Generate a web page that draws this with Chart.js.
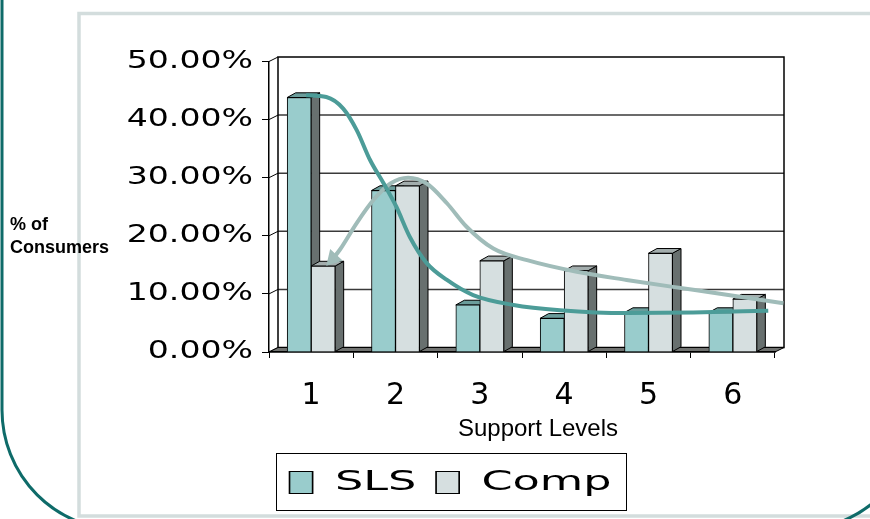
<!DOCTYPE html>
<html>
<head>
<meta charset="utf-8">
<script src="https://cdn.jsdelivr.net/npm/chart.js@4.4.1/dist/chart.umd.min.js"></script>
<style>
  html, body { margin: 0; padding: 0; background: #fff; }
  #wrap { position: relative; width: 870px; height: 519px; }
  #wrap canvas { position: absolute; left: 0; top: 0; display: block; }
</style>
</head>
<body>
<div id="wrap">
  <canvas id="chart" width="870" height="519"></canvas>
  <canvas id="trend" width="870" height="519"></canvas>
</div>
<script>
// ---- data ----
const supportLevels = ['1', '2', '3', '4', '5', '6'];
const slsShare  = [43.8, 27.8, 8.1, 5.8, 6.8, 6.8];
const compShare = [14.8, 28.6, 15.7, 14.0, 17.0, 9.1];

// hand-drawn trend curves (x = support level, y = % of consumers)
const slsTrendX  = [0.94, 1.18, 1.38, 1.54, 1.70, 1.86, 2.01, 2.17, 2.37, 2.61, 2.92, 3.40, 3.95, 4.74, 5.53, 6.42];
const slsTrendY  = [44.2, 43.9, 41.9, 38.2, 33.0, 29.0, 25.0, 19.8, 15.3, 12.4, 9.8, 8.1, 7.2, 6.7, 6.8, 7.1];
const compTrendX = [1.26, 1.34, 1.54, 1.74, 1.94, 2.15, 2.37, 2.61, 2.84, 3.16, 3.56, 4.15, 4.74, 5.53, 6.60];
const compTrendY = [16.1, 17.6, 22.2, 26.2, 29.0, 30.0, 29.0, 25.6, 21.6, 17.8, 15.8, 13.8, 12.4, 10.7, 8.4];

const yTickStep = 10;
const yMax = 50;
const xTitle = 'Support Levels';
const yTitleLines = ['% of', 'Consumers'];

// ---- styling ----
const BAR_WIDTH = 24;
const WALL = { dx: 9, dy: -4.5 };
const BAR_DEPTH = { dx: 8.5, dy: -4.7 };
const SIDE_COLOR = '#68706F';
const FLOOR_COLOR = '#707270';
const Y_LABEL_STRETCH = 1.38;
const LEGEND_STRETCH = 1.65;
const WIDE_FONT = 'DejaVu Sans';
const PLAIN_FONT = '"Liberation Sans", Arial, sans-serif';

function poly(ctx, pts, fill, stroke, lw) {
  ctx.beginPath();
  ctx.moveTo(pts[0][0], pts[0][1]);
  for (let i = 1; i < pts.length; i++) ctx.lineTo(pts[i][0], pts[i][1]);
  ctx.closePath();
  if (fill) { ctx.fillStyle = fill; ctx.fill(); }
  if (stroke) { ctx.strokeStyle = stroke; ctx.lineWidth = lw || 1; ctx.stroke(); }
}

// slide background: pale panel and teal rounded frame
const slideFrame = {
  id: 'slideFrame',
  beforeDraw(chart) {
    const { ctx, width, height } = chart;
    ctx.save();
    ctx.fillStyle = '#fff';
    ctx.fillRect(0, 0, width, height);
    ctx.strokeStyle = '#D3DDDD';
    ctx.lineWidth = 3.5;
    ctx.strokeRect(79, 13.5, width + 40, height - 16.5);
    ctx.strokeStyle = '#0E6B69';
    ctx.lineWidth = 3;
    ctx.beginPath();
    ctx.roundRect(2, -200, 915, 730, 120);
    ctx.stroke();
    ctx.restore();
  }
};

// 3D look: back wall with gridlines, side wall, floor, bar tops and sides
const box3d = {
  id: 'box3d',
  beforeDraw(chart) {
    const { ctx, chartArea: a } = chart;
    const y = chart.scales.y;
    const { dx, dy } = WALL;
    ctx.save();
    ctx.lineWidth = 1.5;
    ctx.strokeStyle = '#3a3a3a';
    y.ticks.forEach(t => {
      const py = y.getPixelForValue(t.value);
      if (t.value > y.min && t.value < y.max) {
        ctx.beginPath();
        ctx.moveTo(a.left + dx, py + dy);
        ctx.lineTo(a.right + dx, py + dy);
        ctx.stroke();
      }
    });
    ctx.strokeStyle = '#000';
    ctx.lineWidth = 1;
    y.ticks.forEach(t => {
      const py = y.getPixelForValue(t.value);
      ctx.beginPath();
      ctx.moveTo(a.left, py);
      ctx.lineTo(a.left + dx, py + dy);
      ctx.stroke();
    });
    ctx.lineWidth = 1.5;
    ctx.strokeRect(a.left + dx, a.top + dy, a.right - a.left, a.bottom - a.top);
    poly(ctx, [[a.left, a.bottom], [a.right, a.bottom], [a.right + dx, a.bottom + dy], [a.left + dx, a.bottom + dy]],
      FLOOR_COLOR, '#000', 1);
    ctx.restore();
  },
  beforeDatasetsDraw(chart) {
    const { ctx } = chart;
    const { dx, dy } = BAR_DEPTH;
    ctx.save();
    chart.data.datasets.forEach((ds, i) => {
      chart.getDatasetMeta(i).data.forEach(bar => {
        const { x, y, base, width } = bar.getProps(['x', 'y', 'base', 'width'], true);
        const L = x - width / 2, R = x + width / 2;
        poly(ctx, [[R, y], [R + dx, y + dy], [R + dx, base + dy], [R, base]], SIDE_COLOR, '#000', 1);
        poly(ctx, [[L, y], [R, y], [R + dx, y + dy], [L + dx, y + dy]], ds.topColor, '#000', 1);
      });
    });
    ctx.restore();
  }
};

// wide lettering for the value axis and the legend
const wideText = {
  id: 'wideText',
  beforeDraw(chart) {
    const y = chart.scales.y;
    if (y && !y._wide) {
      const draw = y.drawLabels;
      y.drawLabels = function (area) {
        const ctx = this.ctx;
        const ax = this.right - this.options.grid.tickLength - this.options.ticks.padding;
        ctx.save();
        ctx.translate(ax, 0);
        ctx.scale(Y_LABEL_STRETCH, 1);
        ctx.translate(-ax, 0);
        draw.call(this, area);
        ctx.restore();
      };
      y._wide = true;
    }
    const lg = chart.legend;
    if (lg && !lg._wide) {
      const draw = lg.draw;
      lg.draw = function (area) {
        const ctx = this.ctx;
        const cx = (this.left + this.right) / 2;
        ctx.save();
        ctx.translate(cx, 0);
        ctx.scale(LEGEND_STRETCH, 1);
        ctx.translate(-cx, 0);
        draw.call(this, area);
        ctx.restore();
      };
      lg._wide = true;
    }
  }
};

// axis titles and legend frame
const captions = {
  id: 'captions',
  afterDraw(chart) {
    const { ctx } = chart;
    ctx.save();
    ctx.fillStyle = '#000';
    ctx.textAlign = 'left';
    ctx.textBaseline = 'alphabetic';
    ctx.font = 'bold 18px ' + PLAIN_FONT;
    ctx.fillText(yTitleLines[0], 10, 230);
    ctx.fillText(yTitleLines[1], 10, 253);
    ctx.font = '24px ' + PLAIN_FONT;
    ctx.textAlign = 'center';
    const xs = chart.scales.x;
    ctx.fillText(xTitle, (xs.left + xs.right) / 2 + 16, 436);

    const lg = chart.legend;
    const hb = lg.legendHitBoxes;
    if (hb && hb.length) {
      const cx = (lg.left + lg.right) / 2;
      const sx = v => cx + (v - cx) * LEGEND_STRETCH;
      const last = hb[hb.length - 1];
      const left = sx(hb[0].left) - 14;
      const right = sx(last.left + last.width) + 14;
      const top = hb[0].top - 16.5;
      const bottom = hb[0].top + hb[0].height + 13.5;
      ctx.strokeStyle = '#000';
      ctx.lineWidth = 1;
      ctx.strokeRect(Math.round(left) + 0.5, Math.round(top) + 0.5, Math.round(right - left), Math.round(bottom - top));
    }
    ctx.restore();
  }
};

// ---- bar chart ----
const barChart = new Chart(document.getElementById('chart'), {
  type: 'bar',
  data: {
    labels: supportLevels,
    datasets: [
      {
        label: 'SLS', data: slsShare,
        backgroundColor: '#99CCCC', borderColor: '#000', borderWidth: 1,
        topColor: '#6B9D9B', barThickness: BAR_WIDTH
      },
      {
        label: 'Comp', data: compShare,
        backgroundColor: '#D6DFE0', borderColor: '#000', borderWidth: 1,
        topColor: '#A3ADAD', barThickness: BAR_WIDTH
      }
    ]
  },
  options: {
    responsive: false,
    animation: false,
    devicePixelRatio: 1,
    events: [],
    layout: { padding: { left: 126, right: 95, top: 61.5, bottom: 13 } },
    plugins: {
      tooltip: { enabled: false },
      legend: {
        position: 'bottom',
        labels: {
          boxWidth: 14, boxHeight: 22, padding: 12,
          font: { family: WIDE_FONT, size: 27 }, color: '#000'
        }
      }
    },
    scales: {
      x: {
        ticks: { font: { family: WIDE_FONT, size: 30 }, color: '#000', padding: 20 },
        grid: { drawOnChartArea: false, drawTicks: true, tickLength: 6, color: '#000', lineWidth: 1, offset: true },
        border: { display: true, color: '#000', width: 1.5 },
        afterFit: s => { s.height = 105; }
      },
      y: {
        min: 0, max: yMax,
        ticks: {
          stepSize: yTickStep,
          callback: v => v.toFixed(2) + '%',
          font: { family: WIDE_FONT, size: 24 }, color: '#000', padding: 9
        },
        grid: { drawOnChartArea: false, drawTicks: true, tickLength: 7, color: '#000', lineWidth: 1 },
        border: { display: true, color: '#000', width: 1.5 },
        afterFit: s => { s.width = 143; }
      }
    }
  },
  plugins: [slideFrame, box3d, wideText, captions]
});

// ---- trend curves, laid over the same plot area ----
const area = barChart.chartArea;
new Chart(document.getElementById('trend'), {
  type: 'line',
  data: {
    datasets: [
      {
        label: 'SLS trend',
        data: slsTrendX.map((x, i) => ({ x, y: slsTrendY[i] })),
        borderColor: '#4C9C98', borderWidth: 4, pointRadius: 0,
        cubicInterpolationMode: 'monotone', clip: false
      },
      {
        label: 'Comp trend',
        data: compTrendX.map((x, i) => ({ x, y: compTrendY[i] })),
        borderColor: '#A0BCB9', borderWidth: 4,
        pointRadius: c => (c.dataIndex === 0 ? 6 : 0),
        pointStyle: 'triangle', pointRotation: 223,
        pointBackgroundColor: '#A0BCB9', pointBorderColor: '#A0BCB9',
        cubicInterpolationMode: 'monotone', clip: false
      }
    ]
  },
  options: {
    responsive: false,
    animation: false,
    devicePixelRatio: 1,
    events: [],
    layout: {
      padding: {
        left: area.left, top: area.top,
        right: barChart.width - area.right, bottom: barChart.height - area.bottom
      }
    },
    plugins: { legend: { display: false }, tooltip: { enabled: false } },
    scales: {
      x: { type: 'linear', display: false, offset: false, min: 0.5, max: supportLevels.length + 0.5 },
      y: { display: false, min: 0, max: yMax }
    }
  }
});
</script>
</body>
</html>
